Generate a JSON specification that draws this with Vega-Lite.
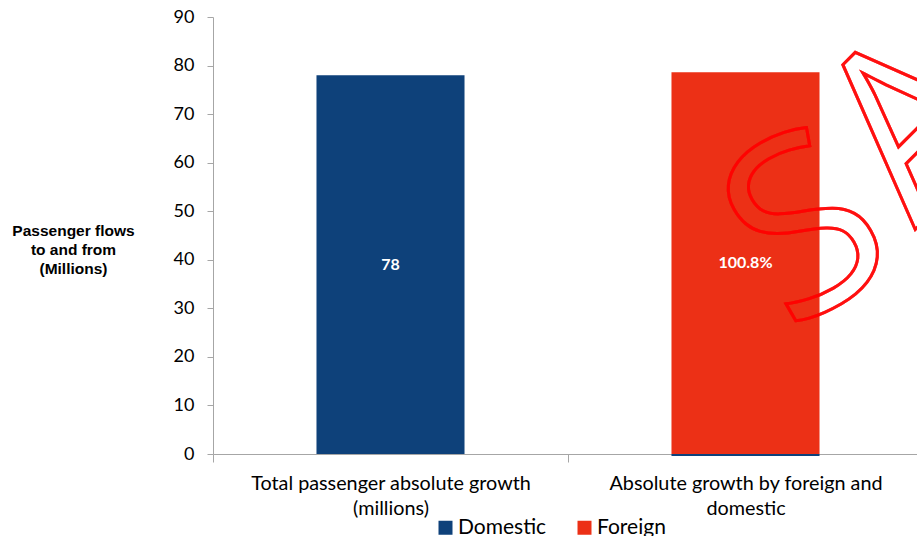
{
  "$schema": "https://vega.github.io/schema/vega-lite/v6.json",
  "autosize": {"type": "none"},
  "padding": {"left": 213, "top": 17, "right": 0, "bottom": 82},
  "width": 704,
  "height": 437,
  "background": "white",
  "config": {
    "view": {"stroke": null},
    "font": "Lato"
  },
  "data": {
    "values": [
      {"category": "Total passenger absolute growth\n(millions)", "series": "Domestic", "value": 78, "label": "78"},
      {"category": "Absolute growth by foreign and\ndomestic", "series": "Domestic", "value": -0.4, "label": ""},
      {"category": "Absolute growth by foreign and\ndomestic", "series": "Foreign", "value": 78.6, "label": "100.8%"}
    ]
  },
  "encoding": {
    "x": {
      "field": "category",
      "type": "nominal",
      "sort": null,
      "scale": {"range": [0, 710], "paddingInner": 0, "paddingOuter": 0},
      "axis": {
        "title": null,
        "labelAngle": 0,
        "labelExpr": "split(datum.label, '\\n')",
        "labelFont": "Lato",
        "labelFontSize": 19.8,
        "labelColor": "#000000",
        "labelLineHeight": 25,
        "labelPadding": 11,
        "labelLimit": 400,
        "tickBand": "extent",
        "tickSize": 8,
        "tickColor": "#a6a6a6",
        "domainColor": "#a6a6a6"
      }
    }
  },
  "layer": [
    {
      "mark": {"type": "bar", "width": {"band": 0.417}},
      "encoding": {
        "y": {
          "field": "value",
          "type": "quantitative",
          "stack": "zero",
          "scale": {"domain": [0, 90], "nice": false},
          "axis": {
            "values": [0, 10, 20, 30, 40, 50, 60, 70, 80, 90],
            "grid": false,
            "title": ["Passenger flows", "to and from", "(Millions)"],
            "titleAngle": 0,
            "titleFont": "Liberation Sans",
            "titleFontSize": 15.5,
            "titleFontWeight": "bold",
            "titleColor": "#000000",
            "titleLineHeight": 19,
            "titleAlign": "center",
            "titleBaseline": "middle",
            "titleX": -140,
            "titleY": 213,
            "labelFont": "Lato",
            "labelFontSize": 18,
            "labelColor": "#000000",
            "labelPadding": 13,
            "tickSize": 6,
            "tickColor": "#a6a6a6",
            "domainColor": "#a6a6a6"
          }
        },
        "color": {
          "field": "series",
          "type": "nominal",
          "scale": {"domain": ["Domestic", "Foreign"], "range": ["#0e417a", "#ec3016"]},
          "legend": {
            "title": null,
            "orient": "none",
            "direction": "horizontal",
            "legendX": 222,
            "legendY": 500,
            "padding": 0,
            "symbolType": "square",
            "symbolSize": 196,
            "symbolStrokeWidth": 0,
            "labelFont": "Lato",
            "labelFontSize": 21,
            "labelColor": "#000000",
            "labelOffset": 2,
            "columnPadding": 27
          }
        },
        "order": {"field": "series", "sort": "ascending"}
      }
    },
    {
      "mark": {
        "type": "text",
        "text": "S",
        "font": "Open Sans",
        "fontSize": 245,
        "align": "center",
        "baseline": "middle",
        "angle": -30,
        "fill": "#ff0000",
        "fillOpacity": 0,
        "stroke": "#ff0000",
        "strokeWidth": 3,
        "strokeOpacity": 0.6,
        "dx": 49,
        "dy": 42
      },
      "encoding": {
        "x": {"datum": "Absolute growth by foreign and\ndomestic"},
        "y": {"datum": 47.7}
      }
    },
    {
      "mark": {
        "type": "text",
        "text": "AMPLE",
        "font": "Open Sans",
        "fontSize": 234,
        "align": "left",
        "baseline": "alphabetic",
        "angle": -45,
        "fill": "#ff0000",
        "fillOpacity": 0,
        "stroke": "#ff0000",
        "strokeWidth": 3,
        "strokeOpacity": 0.6,
        "dx": 115,
        "dy": 125
      },
      "encoding": {
        "x": {"datum": "Absolute growth by foreign and\ndomestic"},
        "y": {"datum": 47.7}
      }
    },
    {
      "transform": [
        {"filter": "datum.label != ''"},
        {"calculate": "datum.value / 2", "as": "mid"}
      ],
      "mark": {"type": "text", "font": "Lato", "fontSize": 16, "fontWeight": "bold", "color": "#ffffff"},
      "encoding": {
        "y": {"field": "mid", "type": "quantitative"},
        "text": {"field": "label"}
      }
    }
  ]
}
